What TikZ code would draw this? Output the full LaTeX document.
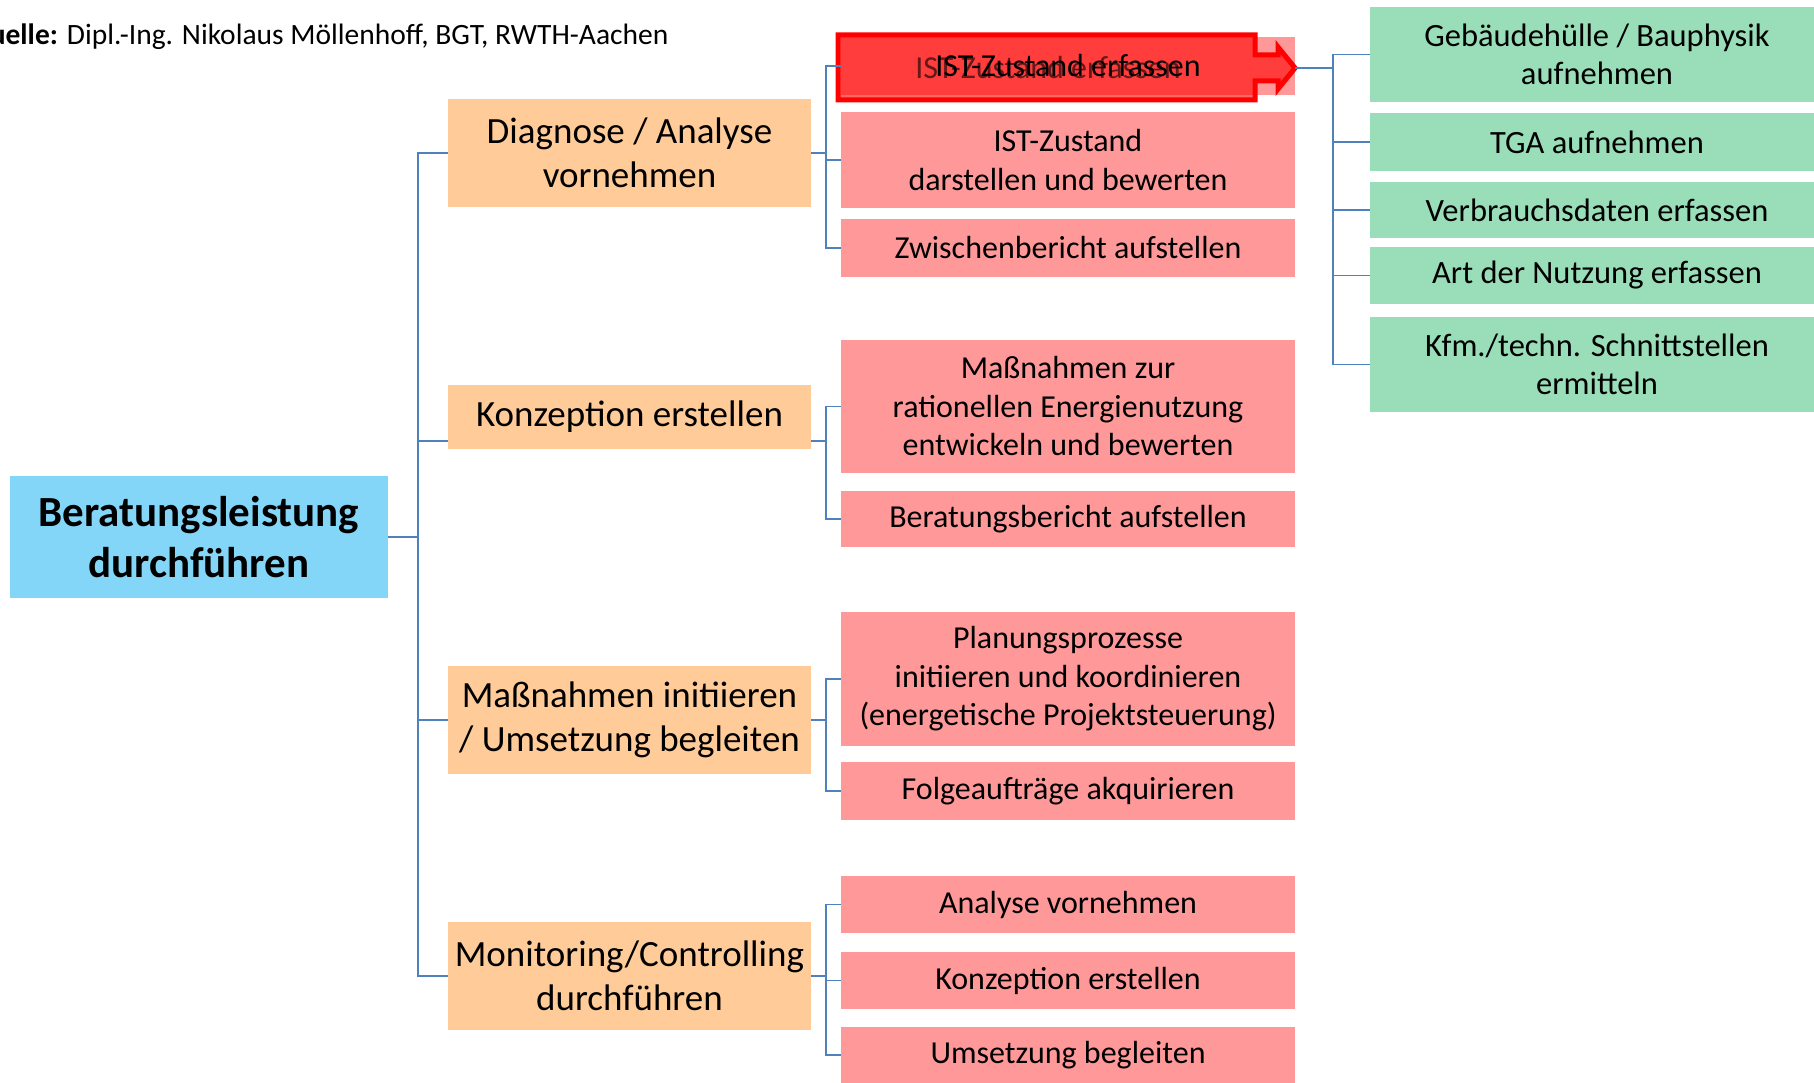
\documentclass[tikz,border=0pt]{standalone}
\usepackage{fontspec}
\setmainfont{Carlito}
\definecolor{rootblue}{RGB}{131,214,247}
\definecolor{phaseorange}{RGB}{255,204,153}
\definecolor{taskpink}{RGB}{255,153,153}
\definecolor{subgreen}{RGB}{153,222,185}
\definecolor{linkblue}{RGB}{79,129,189}
\begin{document}
\begin{tikzpicture}[x=1pt, y=-1pt,
    rootbox/.style={rectangle, fill=rootblue, minimum width=378pt, minimum height=122pt, inner sep=0pt, align=center, font=\fontsize{43}{51}\selectfont\bfseries},
    phasebox/.style={rectangle, fill=phaseorange, minimum width=363pt, minimum height=108pt, inner sep=0pt, align=center, font=\fontsize{37}{44}\selectfont},
    taskbox/.style={rectangle, fill=taskpink, minimum width=454pt, minimum height=58pt, inner sep=0pt, align=center, font=\fontsize{32}{38.5}\selectfont},
    subbox/.style={rectangle, fill=subgreen, minimum width=454pt, minimum height=57pt, inner sep=0pt, align=center, font=\fontsize{32.5}{38.5}\selectfont},
    link/.style={draw=linkblue, line width=1.5pt}]
        \useasboundingbox (0,0) rectangle (1814,1083);

        \node[anchor=base east, font=\fontsize{29.5}{34}\selectfont] (src) at (672,45) {\textbf{Quelle:} Dipl.-Ing. Nikolaus Möllenhoff, BGT, RWTH-Aachen};

        \node[rootbox] (root) at (199,537) {Beratungsleistung\\durchführen};

        \node[phasebox] (diag) at (629.5,153) {Diagnose / Analyse\\vornehmen};
        \node[phasebox, minimum height=64pt] (konz) at (629.5,417) {Konzeption erstellen};
        \node[phasebox] (umse) at (629.5,720) {Maßnahmen initiieren\\/ Umsetzung begleiten};
        \node[phasebox] (moni) at (629.5,976) {Monitoring/Controlling\\durchführen};

        \node[taskbox] (ist1) at (1068,66) {};
        \node[taskbox, minimum height=96pt] (ist2) at (1068,160) {IST-Zustand\\darstellen und bewerten};
        \node[taskbox] (zwi) at (1068,248) {Zwischenbericht aufstellen};
        \node[taskbox, minimum height=133pt] (mzr) at (1068,406.5) {Maßnahmen zur\\rationellen Energienutzung\\entwickeln und bewerten};
        \node[taskbox, minimum height=56pt] (ber) at (1068,519) {Beratungsbericht aufstellen};
        \node[taskbox, minimum height=134pt] (plan) at (1068,679) {Planungsprozesse\\initiieren und koordinieren\\(energetische Projektsteuerung)};
        \node[taskbox] (folge) at (1068,791) {Folgeaufträge akquirieren};
        \node[taskbox, minimum height=57pt] (ana) at (1068,904.5) {Analyse vornehmen};
        \node[taskbox, minimum height=57pt] (kon2) at (1068,980.5) {Konzeption erstellen};
        \node[taskbox, minimum height=56pt] (ums) at (1068,1055) {Umsetzung begleiten};

        % hervorgehobener Schritt
        \filldraw[draw=red, fill=red, fill opacity=0.6, line width=5pt, line join=miter]
            (838,35) -- (1255,35) -- (1255,55) -- (1278,55) -- (1278,47) -- (1295,68)
            -- (1278,89) -- (1278,81) -- (1255,81) -- (1255,100) -- (838,100) -- cycle;
        \coordinate (tip) at (1295,68);
        \node[font=\fontsize{32}{38.5}\selectfont, text opacity=0.6] (ghost) at (1048,68) {IST-Zustand erfassen};
        \node[font=\fontsize{32}{38.5}\selectfont] (ist1t) at (ist1) {IST-Zustand erfassen};

        \node[subbox, minimum height=95pt] (g1) at (1597,54.5) {Gebäudehülle / Bauphysik\\aufnehmen};
        \node[subbox, minimum height=58pt] (g2) at (1597,142) {TGA aufnehmen};
        \node[subbox, minimum height=56pt] (g3) at (1597,210) {Verbrauchsdaten erfassen};
        \node[subbox] (g4) at (1597,275.5) {Art der Nutzung erfassen};
        \node[subbox, minimum height=95pt] (g5) at (1597,364.5) {Kfm./techn. Schnittstellen\\ermitteln};

        \draw[link] (root.east) -- ++(30,0) |- (diag.west);
        \draw[link] (root.east) -- ++(30,0) |- ([yshift=-24pt]konz.west);
        \draw[link] (root.east) -- ++(30,0) |- (umse.west);
        \draw[link] (root.east) -- ++(30,0) |- (moni.west);

        \draw[link] (diag.east) -- ++(15,0) |- (ist1.west);
        \draw[link] (diag.east) -- ++(15,0) |- (ist2.west);
        \draw[link] (diag.east) -- ++(15,0) |- (zwi.west);
        \draw[link] ([yshift=-24pt]konz.east) -- ++(15,0) |- (mzr.west);
        \draw[link] ([yshift=-24pt]konz.east) -- ++(15,0) |- (ber.west);
        \draw[link] (umse.east) -- ++(15,0) |- (plan.west);
        \draw[link] (umse.east) -- ++(15,0) |- (folge.west);
        \draw[link] (moni.east) -- ++(15,0) |- (ana.west);
        \draw[link] (moni.east) -- ++(15,0) |- (kon2.west);
        \draw[link] (moni.east) -- ++(15,0) |- (ums.west);

        \draw[link] (tip) -- ++(38,0) |- (g1.west);
        \draw[link] (tip) -- ++(38,0) |- (g2.west);
        \draw[link] (tip) -- ++(38,0) |- (g3.west);
        \draw[link] (tip) -- ++(38,0) |- (g4.west);
        \draw[link] (tip) -- ++(38,0) |- (g5.west);

    \end{tikzpicture}
\end{document}
